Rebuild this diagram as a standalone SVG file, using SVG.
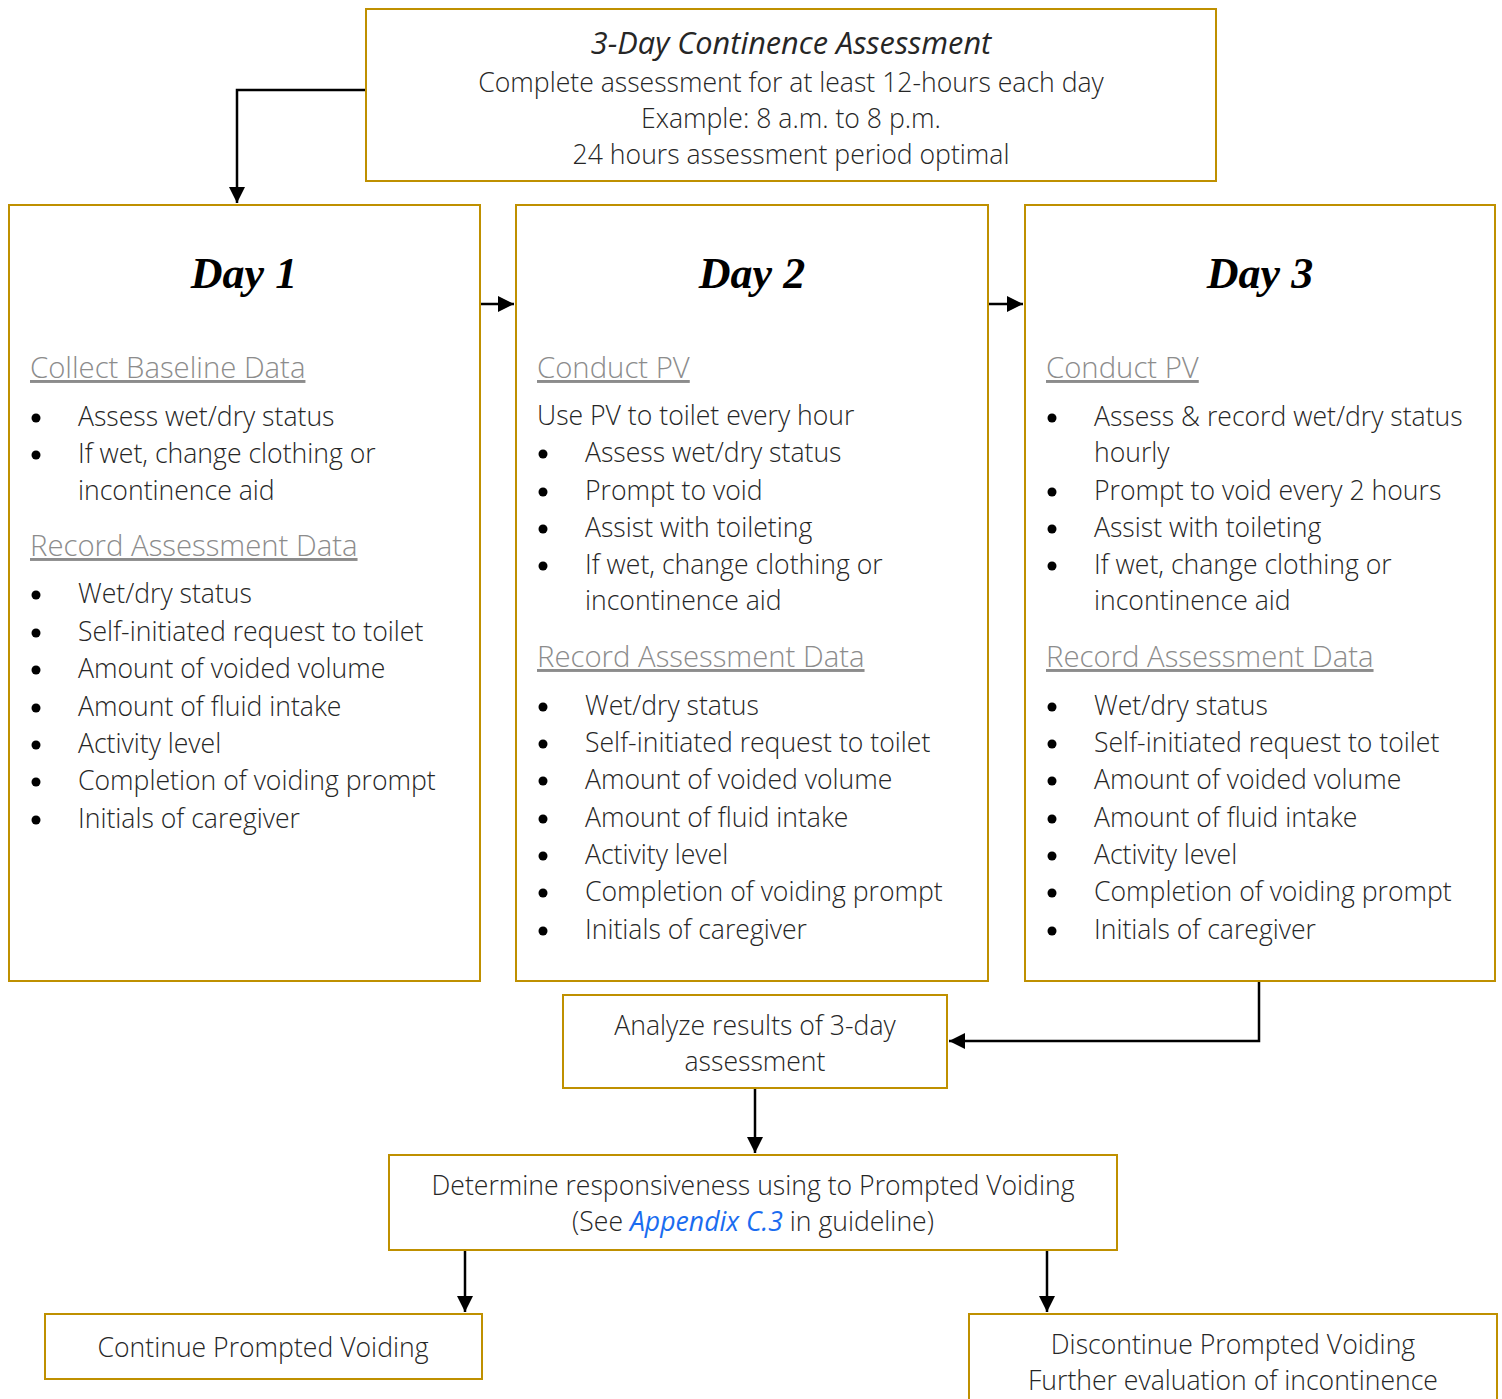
<svg xmlns="http://www.w3.org/2000/svg" width="1502" height="1399" viewBox="0 0 1502 1399">
<defs>
<style>
.box{fill:#fff;stroke:#BF9000;stroke-width:2}
.t{font-family:"Open Sans","Liberation Sans",sans-serif;font-weight:300;font-size:26.6px;fill:#262626}
.c{text-anchor:middle}
.h{font-family:"Open Sans","Liberation Sans",sans-serif;font-weight:300;font-size:29.3px;fill:#8c8c8c;text-decoration:underline}
.day{font-family:"Liberation Serif","DejaVu Serif",serif;font-weight:bold;font-style:italic;font-size:44px;fill:#000;text-anchor:middle}
.b{fill:#000}
.ln{fill:none;stroke:#000;stroke-width:2.5}
</style>
<marker id="ah" viewBox="0 0 10 10" refX="10" refY="5" markerWidth="6.5" markerHeight="6.5" markerUnits="strokeWidth" orient="auto">
<path d="M0,0 L10,5 L0,10 z" fill="#000"/>
</marker>
</defs>
<rect width="1502" height="1399" fill="#fff"/>

<g id="connectors">
<path class="ln" d="M366,90 H237 V203" marker-end="url(#ah)"/>
<path class="ln" d="M480,304 H514" marker-end="url(#ah)"/>
<path class="ln" d="M988,304 H1023" marker-end="url(#ah)"/>
<path class="ln" d="M1259,981 V1041 H949" marker-end="url(#ah)"/>
<path class="ln" d="M755,1088 V1153" marker-end="url(#ah)"/>
<path class="ln" d="M465,1250 V1312" marker-end="url(#ah)"/>
<path class="ln" d="M1047,1250 V1312" marker-end="url(#ah)"/>
</g>

<g id="title">
<rect class="box" x="366" y="9" width="850" height="172"/>
<text class="t c" x="791" y="54" style="font-style:italic;font-size:30.7px;font-weight:400">3-Day Continence Assessment</text>
<text class="t c" x="791" y="92">Complete assessment for at least 12-hours each day</text>
<text class="t c" x="791" y="128">Example: 8 a.m. to 8 p.m.</text>
<text class="t c" x="791" y="164">24 hours assessment period optimal</text>
</g>

<g id="day1">
<rect class="box" x="9" y="205" width="471" height="776"/>
<text class="day" x="244" y="288">Day 1</text>
<text class="h" x="30" y="378">Collect Baseline Data</text>
<g class="b"><circle cx="36" cy="418" r="4.5"/><circle cx="36" cy="455" r="4.5"/></g>
<text class="t" x="78" y="426">Assess wet/dry status</text>
<text class="t" x="78" y="463">If wet, change clothing or</text>
<text class="t" x="78" y="500">incontinence aid</text>
<text class="h" x="30" y="556">Record Assessment Data</text>
<g class="b"><circle cx="36" cy="595" r="4.5"/><circle cx="36" cy="633" r="4.5"/><circle cx="36" cy="670" r="4.5"/><circle cx="36" cy="708" r="4.5"/><circle cx="36" cy="745" r="4.5"/><circle cx="36" cy="782" r="4.5"/><circle cx="36" cy="820" r="4.5"/></g>
<text class="t" x="78" y="603">Wet/dry status</text>
<text class="t" x="78" y="641">Self-initiated request to toilet</text>
<text class="t" x="78" y="678">Amount of voided volume</text>
<text class="t" x="78" y="716">Amount of fluid intake</text>
<text class="t" x="78" y="753">Activity level</text>
<text class="t" x="78" y="790">Completion of voiding prompt</text>
<text class="t" x="78" y="828">Initials of caregiver</text>
</g>

<g id="day2">
<rect class="box" x="516" y="205" width="472" height="776"/>
<text class="day" x="752" y="288">Day 2</text>
<text class="h" x="537" y="378">Conduct PV</text>
<text class="t" x="537" y="425">Use PV to toilet every hour</text>
<g class="b"><circle cx="543" cy="454" r="4.5"/><circle cx="543" cy="492" r="4.5"/><circle cx="543" cy="529" r="4.5"/><circle cx="543" cy="566" r="4.5"/></g>
<text class="t" x="585" y="462">Assess wet/dry status</text>
<text class="t" x="585" y="500">Prompt to void</text>
<text class="t" x="585" y="537">Assist with toileting</text>
<text class="t" x="585" y="574">If wet, change clothing or</text>
<text class="t" x="585" y="610">incontinence aid</text>
<text class="h" x="537" y="667">Record Assessment Data</text>
<g class="b"><circle cx="543" cy="707" r="4.5"/><circle cx="543" cy="744" r="4.5"/><circle cx="543" cy="781" r="4.5"/><circle cx="543" cy="819" r="4.5"/><circle cx="543" cy="856" r="4.5"/><circle cx="543" cy="893" r="4.5"/><circle cx="543" cy="931" r="4.5"/></g>
<text class="t" x="585" y="715">Wet/dry status</text>
<text class="t" x="585" y="752">Self-initiated request to toilet</text>
<text class="t" x="585" y="789">Amount of voided volume</text>
<text class="t" x="585" y="827">Amount of fluid intake</text>
<text class="t" x="585" y="864">Activity level</text>
<text class="t" x="585" y="901">Completion of voiding prompt</text>
<text class="t" x="585" y="939">Initials of caregiver</text>
</g>

<g id="day3">
<rect class="box" x="1025" y="205" width="470" height="776"/>
<text class="day" x="1260" y="288">Day 3</text>
<text class="h" x="1046" y="378">Conduct PV</text>
<g class="b"><circle cx="1052" cy="418" r="4.5"/><circle cx="1052" cy="492" r="4.5"/><circle cx="1052" cy="529" r="4.5"/><circle cx="1052" cy="566" r="4.5"/></g>
<text class="t" x="1094" y="426">Assess &amp; record wet/dry status</text>
<text class="t" x="1094" y="462">hourly</text>
<text class="t" x="1094" y="500">Prompt to void every 2 hours</text>
<text class="t" x="1094" y="537">Assist with toileting</text>
<text class="t" x="1094" y="574">If wet, change clothing or</text>
<text class="t" x="1094" y="610">incontinence aid</text>
<text class="h" x="1046" y="667">Record Assessment Data</text>
<g class="b"><circle cx="1052" cy="707" r="4.5"/><circle cx="1052" cy="744" r="4.5"/><circle cx="1052" cy="781" r="4.5"/><circle cx="1052" cy="819" r="4.5"/><circle cx="1052" cy="856" r="4.5"/><circle cx="1052" cy="893" r="4.5"/><circle cx="1052" cy="931" r="4.5"/></g>
<text class="t" x="1094" y="715">Wet/dry status</text>
<text class="t" x="1094" y="752">Self-initiated request to toilet</text>
<text class="t" x="1094" y="789">Amount of voided volume</text>
<text class="t" x="1094" y="827">Amount of fluid intake</text>
<text class="t" x="1094" y="864">Activity level</text>
<text class="t" x="1094" y="901">Completion of voiding prompt</text>
<text class="t" x="1094" y="939">Initials of caregiver</text>
</g>

<g id="analyze">
<rect class="box" x="563" y="995" width="384" height="93"/>
<text class="t c" x="755" y="1035">Analyze results of 3-day</text>
<text class="t c" x="755" y="1071">assessment</text>
</g>

<g id="determine">
<rect class="box" x="389" y="1155" width="728" height="95"/>
<text class="t c" x="753" y="1195">Determine responsiveness using to Prompted Voiding</text>
<text class="t c" x="753" y="1231">(See <tspan style="fill:#1a6cf0;font-style:italic;font-weight:400">Appendix C.3</tspan> in guideline)</text>
</g>

<g id="continue">
<rect class="box" x="45" y="1314" width="437" height="65"/>
<text class="t c" x="263" y="1357">Continue Prompted Voiding</text>
</g>

<g id="discontinue">
<rect class="box" x="969" y="1314" width="528" height="100"/>
<text class="t c" x="1233" y="1354">Discontinue Prompted Voiding</text>
<text class="t c" x="1233" y="1390">Further evaluation of incontinence</text>
</g>
</svg>
